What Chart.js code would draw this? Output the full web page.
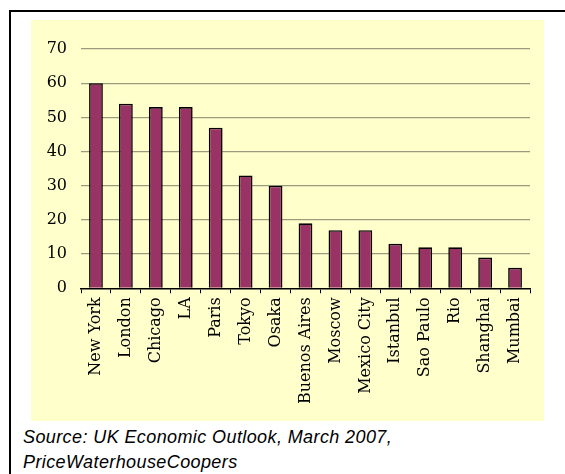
<!DOCTYPE html>
<html>
<head>
<meta charset="utf-8">
<script src="https://cdn.jsdelivr.net/npm/chart.js@4/dist/chart.umd.min.js"></script>
<style>
  body { margin: 0; background: #fff; width: 565px; height: 474px; overflow: hidden; position: relative; }
  #marco { position: absolute; left: 9px; top: 10px; width: 600px; height: 500px; border: 2px solid #000; }
  #panel { position: absolute; left: 31px; top: 20px; width: 513px; height: 401px; background: #ffffcc; }
  #fuente { position: absolute; left: 23px; top: 425px; font-family: "Liberation Sans", Arial, sans-serif;
            font-style: italic; font-size: 18px; line-height: 25px; letter-spacing: 0.4px; color: #000; }
</style>
</head>
<body>
<div id="marco"></div>
<div id="panel"><canvas id="myChart" width="513" height="401"></canvas></div>
<div id="fuente">Source: UK Economic Outlook, March 2007,<br>PriceWaterhouseCoopers</div>
<script>
var ciudades = ['New York', 'London', 'Chicago', 'LA', 'Paris', 'Tokyo', 'Osaka', 'Buenos Aires',
                'Moscow', 'Mexico City', 'Istanbul', 'Sao Paulo', 'Rio', 'Shanghai', 'Mumbai'];
var valores = [60, 54, 53, 53, 47, 33, 30, 19, 17, 17, 13, 12, 12, 9, 6];
var marcasY = [0, 10, 20, 30, 40, 50, 60, 70];

var fuenteSerif = '"DejaVu Serif", "Liberation Serif", serif';

var datosChart = {
    labels: ciudades,
    datasets: [{
        label: 'Ciudades',
        backgroundColor: '#993366',
        borderColor: '#000000',
        borderWidth: 1.6,
        borderSkipped: 'bottom',
        barPercentage: 0.46,
        categoryPercentage: 1,
        data: valores
    }]
};

var newChar = document.getElementById('myChart');

var charGrafico = new Chart(newChar, {
    type: 'bar',
    data: datosChart,
    options: {
        responsive: false,
        animation: false,
        layout: { padding: { top: 29, right: 14, left: 0, bottom: 0 } },
        plugins: { legend: { display: false }, tooltip: { enabled: false } },
        scales: {
            x: {
                grid: { offset: true, drawOnChartArea: false, color: '#000', tickLength: 5 },
                border: { display: true, color: '#000', width: 1.5 },
                ticks: {
                    color: '#000', font: { family: fuenteSerif, size: 16 },
                    maxRotation: 90, minRotation: 90, padding: 4, autoSkip: false
                },
                afterFit: function(scale) { scale.height = 132.7; }
            },
            y: {
                min: 0, max: 70,
                afterBuildTicks: function(scale) {
                    scale.ticks = marcasY.map(function(v) { return { value: v }; });
                },
                grid: {
                    drawTicks: false,
                    lineWidth: 1.3,
                    color: function(ctx) { return ctx.tick && ctx.tick.value === 0 ? 'rgba(0,0,0,0)' : '#9a9a7c'; }
                },
                border: { display: false },
                ticks: { color: '#000', font: { family: fuenteSerif, size: 16 }, padding: 14 },
                afterFit: function(scale) { scale.width = 50; }
            }
        }
    }
});
</script>
</body>
</html>
